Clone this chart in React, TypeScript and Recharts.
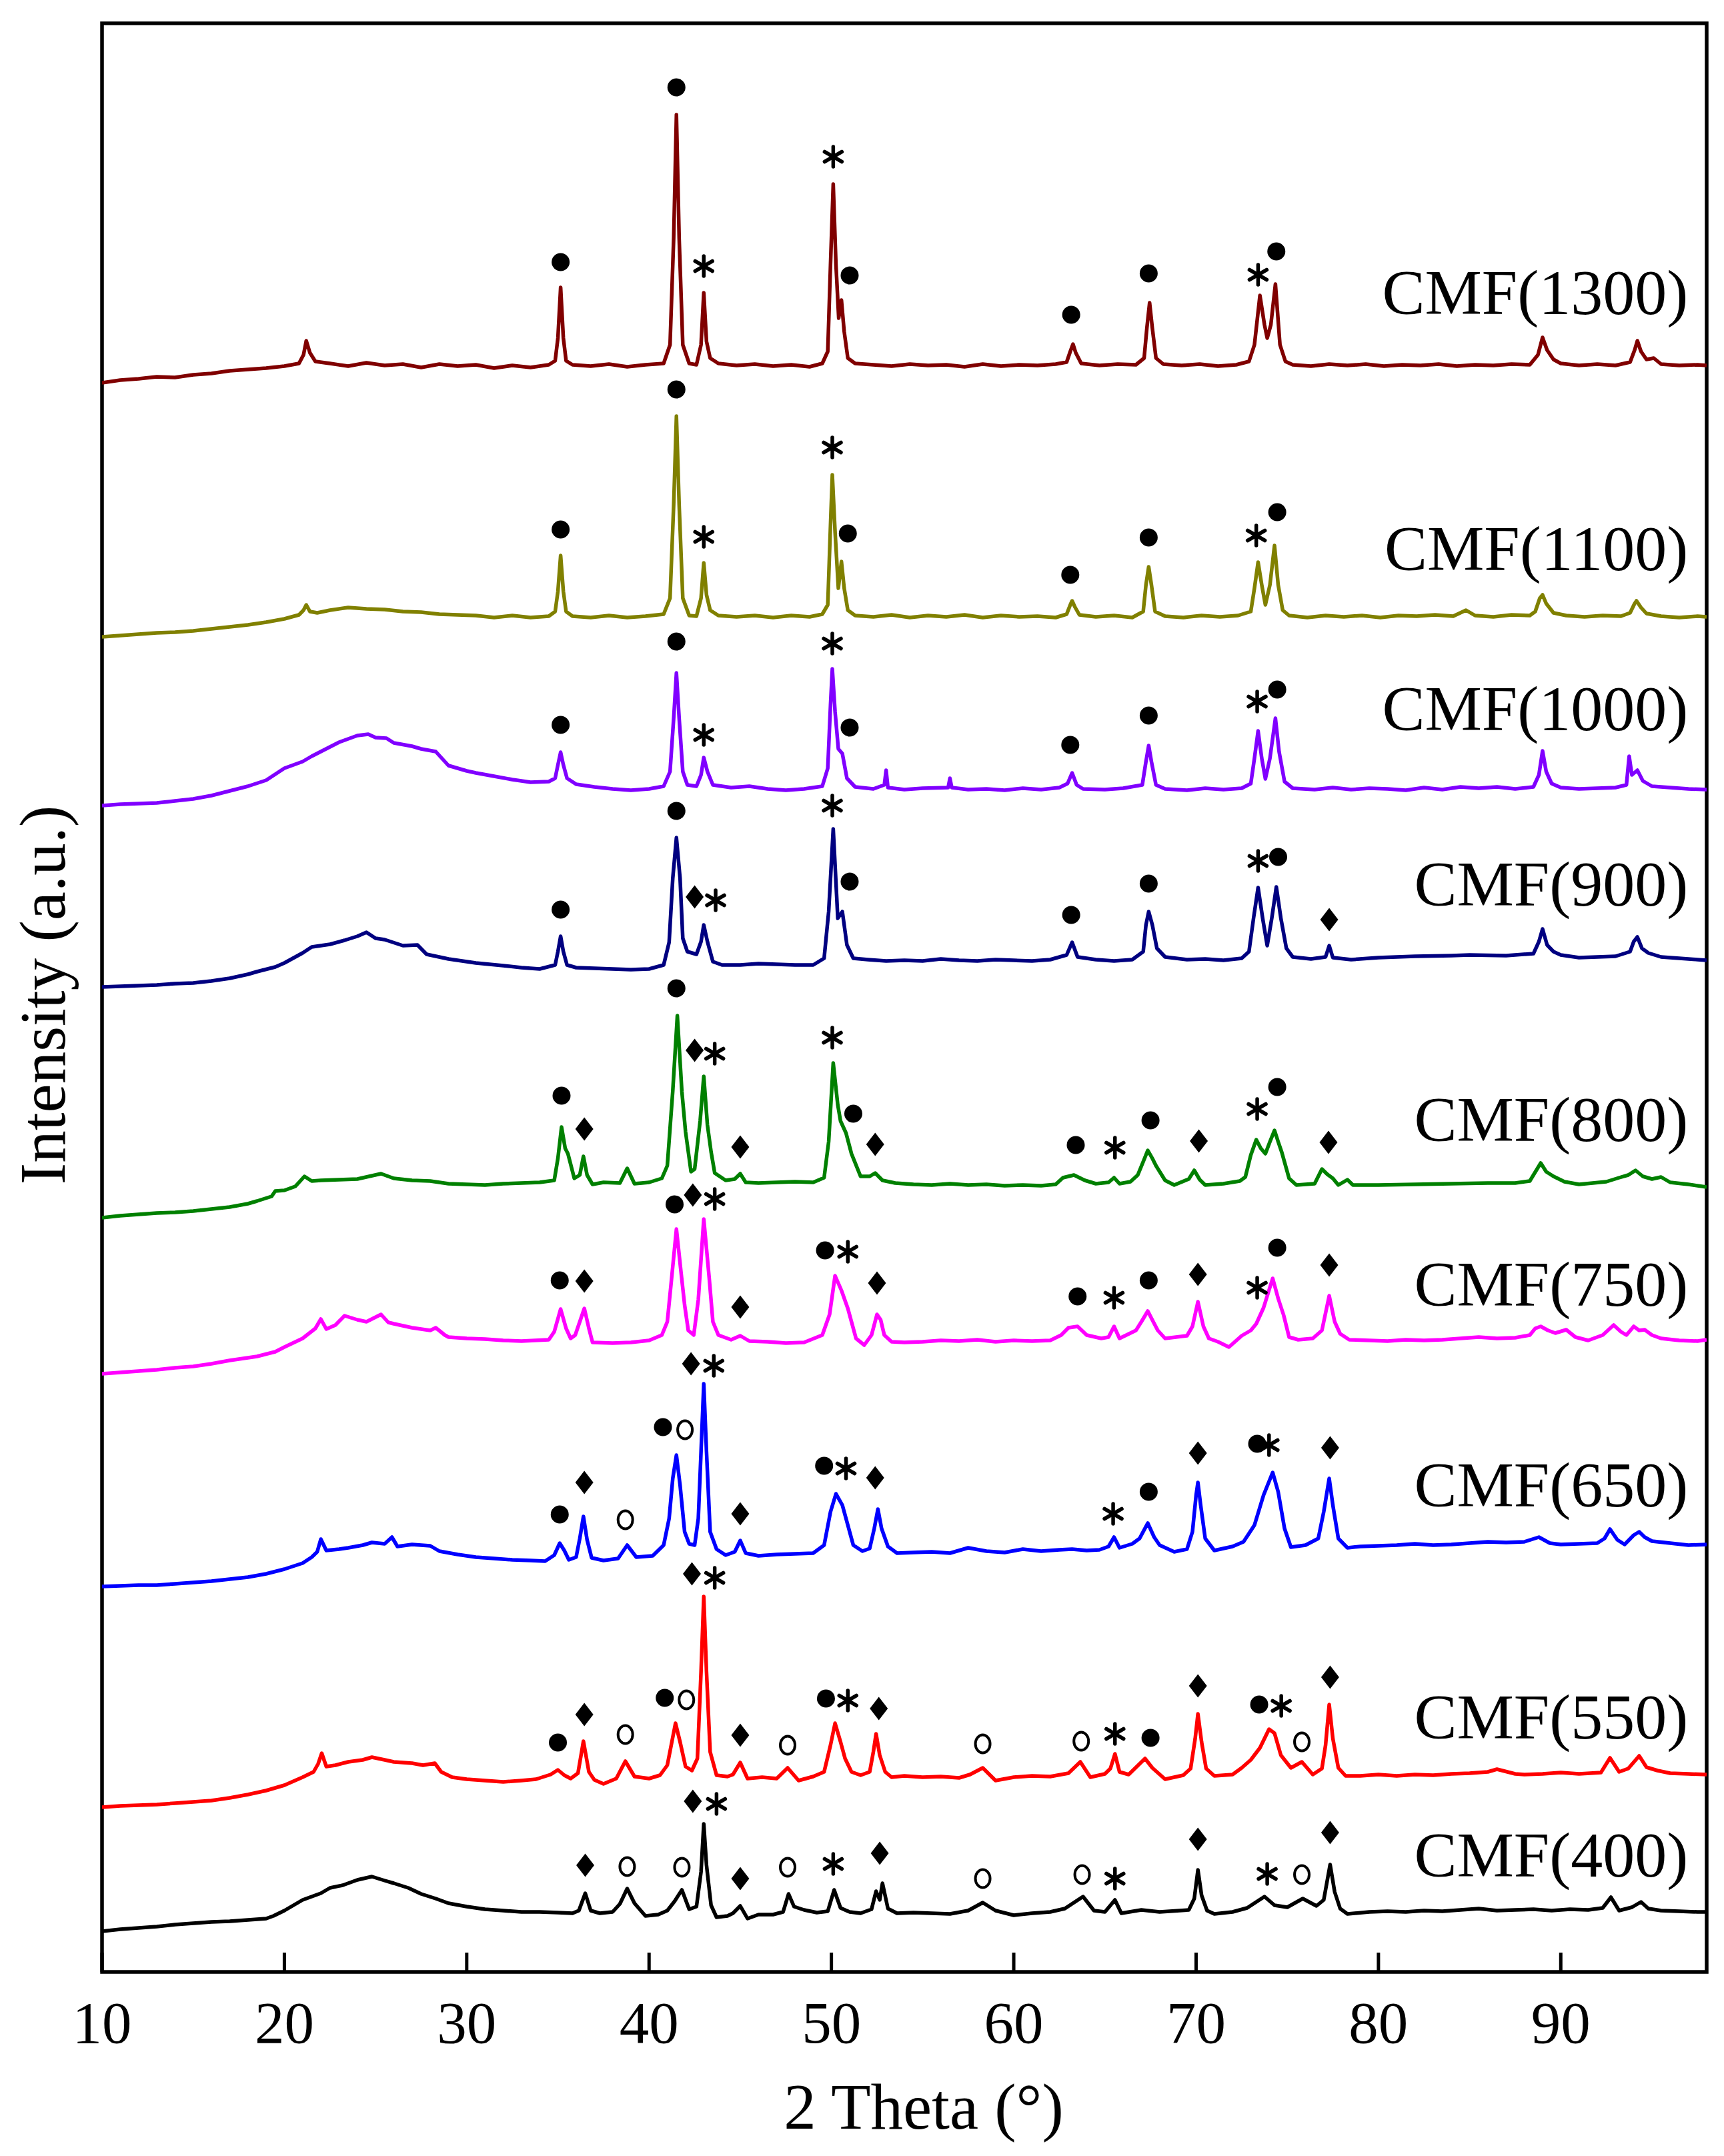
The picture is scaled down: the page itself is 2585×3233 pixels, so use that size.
import React from "react";
import {
  ComposedChart,
  Line,
  Scatter,
  XAxis,
  YAxis,
  ReferenceArea,
  Label,
} from "recharts";

const FONT = '"Liberation Serif", "Times New Roman", serif';

// [2theta, stacked intensity], one array per sample
const cmf1300: [number, number][] = [
  [10, 2383], [11, 2387], [12, 2389], [13, 2392], [14, 2391], [15, 2395], [16, 2397], [17, 2401],
  [18, 2403], [19, 2405], [20, 2408], [20.8, 2412], [21.05, 2425], [21.2, 2446], [21.4, 2428],
  [21.7, 2415], [22.5, 2412], [23.5, 2408], [24.5, 2413], [25.5, 2409], [26.5, 2411], [27.5, 2406],
  [28.5, 2411], [29.5, 2408], [30.5, 2410], [31.5, 2405], [32.5, 2409], [33.5, 2406], [34.5, 2410],
  [34.85, 2416], [35.0, 2450], [35.15, 2526], [35.3, 2450], [35.45, 2416], [35.8, 2410],
  [36.8, 2408], [37.8, 2411], [38.8, 2407], [39.8, 2410], [40.8, 2412], [41.15, 2440],
  [41.35, 2600], [41.5, 2785], [41.65, 2600], [41.85, 2440], [42.2, 2412], [42.6, 2410],
  [42.85, 2440], [43.0, 2518], [43.15, 2445], [43.35, 2420], [43.8, 2412], [44.8, 2409],
  [45.8, 2411], [46.8, 2408], [47.8, 2410], [48.8, 2407], [49.5, 2412], [49.8, 2430],
  [49.95, 2560], [50.1, 2681], [50.25, 2560], [50.4, 2480], [50.55, 2507], [50.7, 2460],
  [50.9, 2420], [51.3, 2412], [52.3, 2410], [53.3, 2408], [54.3, 2411], [55.3, 2409], [56.3, 2410],
  [57.3, 2407], [58.3, 2411], [59.3, 2408], [60.3, 2410], [61.3, 2409], [62.3, 2411], [62.9, 2414],
  [63.1, 2430], [63.25, 2441], [63.4, 2428], [63.7, 2412], [64.7, 2409], [65.7, 2411], [66.7, 2410],
  [67.15, 2420], [67.3, 2465], [67.45, 2503], [67.6, 2465], [67.8, 2420], [68.2, 2411],
  [69.2, 2409], [70.2, 2411], [71.2, 2408], [72.2, 2410], [72.9, 2415], [73.2, 2440], [73.5, 2514],
  [73.75, 2470], [73.9, 2450], [74.1, 2470], [74.35, 2531], [74.6, 2440], [74.9, 2415],
  [75.3, 2410], [76.3, 2408], [77.3, 2411], [78.3, 2409], [79.3, 2411], [80.3, 2408], [81.3, 2410],
  [82.3, 2409], [83.3, 2411], [84.3, 2408], [85.3, 2410], [86.3, 2409], [87.3, 2411], [88.3, 2410],
  [88.75, 2425], [89.0, 2451], [89.25, 2432], [89.6, 2418], [90, 2412], [91, 2409], [92, 2411],
  [93, 2409], [93.8, 2414], [94.05, 2432], [94.2, 2446], [94.4, 2430], [94.7, 2418], [95.1, 2420],
  [95.5, 2411], [96.5, 2409], [97.5, 2410], [98, 2409],
];

const cmf1100: [number, number][] = [
  [10, 2002], [11, 2004], [12, 2006], [13, 2008], [14, 2009], [15, 2011], [16, 2014], [17, 2017],
  [18, 2020], [19, 2024], [20, 2029], [20.8, 2035], [21.05, 2042], [21.2, 2050], [21.4, 2040],
  [21.8, 2038], [22.5, 2042], [23.5, 2046], [24.5, 2044], [25.5, 2043], [26.5, 2040], [27.5, 2039],
  [28.5, 2036], [29.5, 2035], [30.5, 2034], [31.5, 2031], [32.5, 2034], [33.5, 2031], [34.5, 2033],
  [34.85, 2040], [35.0, 2070], [35.15, 2124], [35.3, 2070], [35.45, 2040], [35.8, 2033],
  [36.8, 2031], [37.8, 2034], [38.8, 2031], [39.8, 2033], [40.8, 2036], [41.15, 2060],
  [41.35, 2200], [41.5, 2333], [41.65, 2200], [41.85, 2060], [42.2, 2034], [42.6, 2033],
  [42.85, 2060], [43.0, 2113], [43.15, 2065], [43.35, 2042], [43.8, 2034], [44.8, 2032],
  [45.8, 2034], [46.8, 2031], [47.8, 2034], [48.8, 2032], [49.5, 2036], [49.8, 2050],
  [49.95, 2170], [50.05, 2245], [50.2, 2160], [50.38, 2075], [50.55, 2115], [50.7, 2075],
  [50.9, 2042], [51.3, 2034], [52.3, 2032], [53.3, 2035], [54.3, 2031], [55.3, 2034], [56.3, 2032],
  [57.3, 2035], [58.3, 2031], [59.3, 2034], [60.3, 2032], [61.3, 2033], [62.3, 2031], [62.9, 2036],
  [63.1, 2050], [63.2, 2056], [63.35, 2047], [63.6, 2035], [64.5, 2032], [65.5, 2034], [66.5, 2031],
  [67.1, 2040], [67.25, 2080], [67.4, 2107], [67.55, 2080], [67.75, 2040], [68.3, 2033],
  [69.3, 2031], [70.3, 2034], [71.3, 2032], [72.3, 2034], [73.0, 2040], [73.2, 2075], [73.4, 2114],
  [73.6, 2080], [73.8, 2050], [74.05, 2080], [74.3, 2139], [74.5, 2080], [74.75, 2042],
  [75.1, 2034], [76.1, 2031], [77.1, 2034], [78.1, 2032], [79.1, 2034], [80.1, 2031], [81.1, 2034],
  [82.1, 2033], [83.1, 2035], [84.1, 2033], [84.8, 2042], [85.3, 2034], [86.3, 2032], [87.3, 2035],
  [88.3, 2034], [88.6, 2040], [88.85, 2060], [89.0, 2065], [89.2, 2052], [89.6, 2038], [90.3, 2034],
  [91.3, 2032], [92.3, 2034], [93.3, 2033], [93.8, 2038], [94.05, 2052], [94.15, 2056],
  [94.4, 2046], [94.7, 2037], [95.5, 2033], [96.5, 2031], [97.5, 2033], [98, 2032],
];

const cmf1000: [number, number][] = [
  [10, 1749], [11, 1751], [12, 1752], [13, 1753], [14, 1756], [15, 1759], [16, 1764], [17, 1771],
  [18, 1778], [19, 1787], [20, 1805], [21, 1815], [21.5, 1823], [22, 1830], [23, 1844], [24, 1854],
  [24.6, 1856], [25, 1851], [25.6, 1850], [26, 1843], [27, 1838], [27.5, 1834], [28.3, 1830],
  [29, 1809], [30, 1801], [30.5, 1798], [31.5, 1793], [32.5, 1788], [33.5, 1784], [34.5, 1785],
  [34.85, 1790], [35.0, 1810], [35.15, 1829], [35.3, 1810], [35.5, 1790], [36, 1781], [37, 1777],
  [38, 1774], [39, 1772], [40, 1774], [40.8, 1778], [41.15, 1800], [41.35, 1880], [41.5, 1948],
  [41.65, 1880], [41.85, 1800], [42.1, 1780], [42.6, 1778], [42.85, 1795], [43.0, 1821],
  [43.2, 1800], [43.5, 1780], [44.5, 1776], [45.5, 1778], [46.5, 1774], [47.5, 1772], [48.5, 1774],
  [49.5, 1778], [49.8, 1805], [49.95, 1900], [50.05, 1954], [50.2, 1890], [50.38, 1834],
  [50.6, 1827], [50.85, 1790], [51.3, 1777], [52.3, 1774], [52.9, 1780], [53.0, 1802], [53.1, 1776],
  [54, 1773], [55, 1775], [56.4, 1776], [56.5, 1790], [56.6, 1776], [57.5, 1773], [58.5, 1774],
  [59.5, 1772], [60.5, 1775], [61.5, 1773], [62.5, 1776], [62.95, 1782], [63.2, 1798], [63.45, 1780],
  [63.8, 1774], [65, 1773], [66, 1775], [67.05, 1780], [67.25, 1815], [67.4, 1839], [67.55, 1815],
  [67.8, 1780], [68.3, 1774], [69.5, 1772], [70.5, 1775], [71.5, 1773], [72.5, 1775], [73.0, 1782],
  [73.2, 1820], [73.4, 1861], [73.6, 1820], [73.8, 1789], [74.05, 1820], [74.35, 1880],
  [74.55, 1830], [74.85, 1785], [75.3, 1775], [76.5, 1773], [77.5, 1776], [78.5, 1773], [79.5, 1775],
  [80.5, 1774], [81.5, 1772], [82.5, 1776], [83.5, 1773], [84.5, 1777], [85.5, 1775], [86.5, 1777],
  [87.5, 1774], [88.5, 1777], [88.8, 1795], [89.0, 1831], [89.2, 1800], [89.5, 1782], [90, 1776],
  [91, 1774], [92, 1775], [93, 1776], [93.6, 1780], [93.75, 1823], [93.9, 1795], [94.2, 1802],
  [94.5, 1786], [95, 1778], [96, 1776], [97, 1774], [98, 1773],
];

const cmf900: [number, number][] = [
  [10, 1477], [11, 1478], [12, 1479], [13, 1480], [14, 1482], [15, 1483], [16, 1486], [17, 1490],
  [18, 1496], [18.5, 1500], [19.5, 1507], [20, 1513], [21, 1528], [21.5, 1537], [22.5, 1541],
  [23.3, 1547], [24, 1553], [24.5, 1559], [25, 1550], [25.5, 1548], [26.5, 1539], [27.3, 1540],
  [27.8, 1526], [29, 1519], [30.5, 1513], [32, 1509], [33, 1506], [34, 1504], [34.85, 1510],
  [35.0, 1530], [35.15, 1553], [35.3, 1530], [35.5, 1510], [36, 1506], [37, 1505], [38, 1504],
  [39, 1503], [40, 1504], [40.8, 1510], [41.1, 1544], [41.3, 1640], [41.5, 1701], [41.7, 1640],
  [41.85, 1550], [42.1, 1530], [42.6, 1526], [42.85, 1545], [43.0, 1570], [43.2, 1545],
  [43.5, 1515], [44, 1510], [45, 1510], [46, 1512], [47, 1511], [48, 1510], [49, 1510], [49.6, 1520],
  [49.85, 1590], [50.1, 1714], [50.35, 1580], [50.6, 1590], [50.85, 1540], [51.2, 1520], [52, 1518],
  [53, 1516], [54, 1517], [55, 1516], [56, 1519], [57, 1517], [58, 1516], [59, 1518], [60, 1517],
  [61, 1516], [62, 1518], [62.9, 1525], [63.2, 1544], [63.5, 1522], [64.5, 1518], [65.5, 1516],
  [66.5, 1518], [67.1, 1530], [67.25, 1570], [67.4, 1590], [67.6, 1570], [67.85, 1535],
  [68.3, 1522], [69.5, 1518], [70.5, 1519], [71.5, 1517], [72.5, 1520], [72.9, 1530], [73.15, 1580],
  [73.4, 1626], [73.65, 1580], [73.9, 1539], [74.15, 1580], [74.4, 1627], [74.65, 1580],
  [74.95, 1535], [75.3, 1522], [76.3, 1519], [77.1, 1522], [77.3, 1539], [77.5, 1521], [78.5, 1518],
  [80, 1521], [82, 1523], [84, 1524], [85, 1525], [87, 1524], [88.5, 1527], [88.8, 1545],
  [89.0, 1564], [89.25, 1540], [89.6, 1530], [90, 1525], [91, 1521], [92, 1522], [93, 1523],
  [93.8, 1530], [94.0, 1545], [94.2, 1552], [94.45, 1535], [94.8, 1528], [95.5, 1522], [96.5, 1520],
  [97.5, 1518], [98, 1517],
];

const cmf800: [number, number][] = [
  [10, 1131], [11, 1134], [12, 1136], [13, 1138], [14, 1139], [15, 1141], [16, 1144], [17, 1147],
  [18, 1152], [18.5, 1156], [19.3, 1163], [19.5, 1171], [20, 1172], [20.6, 1178], [21.1, 1193],
  [21.5, 1186], [22, 1187], [23, 1188], [24, 1189], [25.3, 1197], [26, 1190], [27, 1187], [28, 1186],
  [29, 1182], [30, 1181], [31, 1180], [32, 1182], [33, 1183], [34, 1184], [34.8, 1187], [35.0, 1220],
  [35.2, 1267], [35.4, 1235], [35.55, 1227], [35.9, 1190], [36.2, 1195], [36.4, 1223], [36.6, 1195],
  [36.9, 1181], [37.5, 1184], [38.4, 1183], [38.8, 1205], [39.2, 1182], [40, 1184], [40.7, 1190],
  [41.0, 1209], [41.3, 1321], [41.55, 1434], [41.8, 1320], [42.0, 1260], [42.3, 1200], [42.5, 1204],
  [42.8, 1276], [43.0, 1343], [43.2, 1270], [43.4, 1230], [43.6, 1198], [44.2, 1187], [44.7, 1189],
  [45.0, 1197], [45.3, 1184], [46, 1183], [47, 1184], [48, 1185], [49, 1184], [49.6, 1191],
  [49.85, 1245], [50.1, 1363], [50.35, 1300], [50.5, 1276], [50.8, 1258], [51.1, 1227],
  [51.6, 1193], [52.1, 1193], [52.4, 1198], [52.8, 1187], [53.5, 1183], [54.5, 1181], [55.5, 1180],
  [56.5, 1182], [57.5, 1180], [58.5, 1181], [59.5, 1179], [60.5, 1180], [61.5, 1179], [62.3, 1181],
  [62.7, 1191], [63.3, 1195], [63.9, 1187], [64.5, 1182], [65.2, 1184], [65.5, 1191], [65.8, 1182],
  [66.4, 1185], [66.8, 1195], [67.1, 1215], [67.35, 1232], [67.6, 1220], [67.8, 1209], [68.3, 1187],
  [68.8, 1180], [69.6, 1189], [69.9, 1202], [70.2, 1188], [70.5, 1180], [71.5, 1182], [72.4, 1186],
  [72.7, 1192], [73.0, 1225], [73.3, 1248], [73.55, 1235], [73.8, 1227], [74.05, 1245],
  [74.3, 1262], [74.5, 1245], [74.7, 1229], [75.1, 1190], [75.5, 1180], [76.5, 1182], [76.9, 1204],
  [77.2, 1196], [77.5, 1190], [77.8, 1180], [78.3, 1188], [78.6, 1180], [80, 1180], [82, 1181],
  [84, 1182], [86, 1183], [87.5, 1183], [88.3, 1186], [88.9, 1213], [89.2, 1200], [89.6, 1193],
  [90.2, 1185], [91, 1181], [92.5, 1185], [93.2, 1191], [93.7, 1195], [94.1, 1202], [94.5, 1193],
  [95, 1189], [95.5, 1192], [96, 1184], [97, 1181], [98, 1177],
];

const cmf750: [number, number][] = [
  [10, 897], [11, 899], [12, 901], [13, 903], [14, 906], [15, 908], [16, 912], [17, 917], [18, 921],
  [18.5, 923], [19.5, 930], [20, 937], [21, 950], [21.7, 965], [22, 979], [22.3, 964], [22.8, 970],
  [23.3, 984], [24, 978], [24.5, 975], [25.3, 986], [25.7, 974], [26, 972], [27, 966], [28, 962],
  [28.3, 966], [28.8, 955], [29, 952], [30, 950], [31, 949], [32, 947], [33, 946], [34.5, 948],
  [34.8, 960], [35.15, 994], [35.45, 965], [35.7, 950], [35.95, 955], [36.2, 975], [36.45, 995],
  [36.7, 965], [36.9, 944], [38, 943], [39, 944], [40, 947], [40.7, 955], [41.0, 975], [41.2, 1030],
  [41.5, 1114], [41.75, 1050], [41.95, 1000], [42.15, 962], [42.45, 955], [42.7, 1008], [43.0, 1129],
  [43.3, 1040], [43.5, 975], [43.8, 955], [44.5, 948], [45, 954], [45.5, 946], [46.5, 945],
  [47.5, 943], [48.5, 944], [49.5, 955], [49.9, 986], [50.2, 1044], [50.55, 1022], [50.9, 995],
  [51.1, 975], [51.35, 950], [51.8, 940], [52.2, 955], [52.5, 986], [52.7, 978], [52.9, 955],
  [53.3, 945], [54, 944], [55, 945], [56, 947], [57, 946], [58, 948], [59, 945], [60, 947], [61, 946],
  [62, 947], [62.6, 955], [63.0, 966], [63.5, 968], [64, 955], [64.8, 950], [65.2, 952], [65.5, 968],
  [65.8, 950], [66.7, 962], [67.0, 975], [67.35, 991], [67.65, 975], [67.9, 962], [68.3, 950],
  [69.5, 954], [69.8, 968], [70.1, 1005], [70.4, 968], [70.7, 950], [71.2, 945], [71.8, 937],
  [72.5, 954], [73.0, 962], [73.3, 972], [73.7, 996], [74.2, 1040], [74.5, 1010], [74.8, 985],
  [75.1, 952], [75.6, 948], [76.4, 950], [76.9, 962], [77.3, 1014], [77.6, 975], [77.9, 957],
  [78.4, 948], [79.5, 947], [80.5, 946], [81.5, 948], [82.5, 947], [83.5, 948], [84.5, 950],
  [85.5, 952], [86.5, 950], [87.5, 951], [88.3, 955], [88.6, 965], [88.9, 968], [89.3, 962],
  [89.7, 958], [90.3, 963], [90.8, 952], [91.5, 947], [92.3, 955], [92.9, 970], [93.3, 960],
  [93.6, 955], [94.0, 968], [94.3, 962], [94.6, 963], [95, 955], [95.5, 950], [96.5, 947],
  [97.5, 946], [98, 948],
];

const cmf650: [number, number][] = [
  [10, 578], [11, 579], [12, 580], [13, 580], [14, 582], [15, 584], [16, 586], [17, 589], [18, 592],
  [19, 597], [20, 604], [21, 613], [21.5, 622], [21.8, 630], [22, 649], [22.3, 632], [23, 634],
  [23.5, 636], [24.3, 640], [24.8, 644], [25.5, 642], [25.9, 652], [26.2, 638], [27, 641], [28, 639],
  [28.5, 631], [29.5, 626], [30.5, 622], [31.5, 620], [32.5, 618], [33.5, 617], [34.3, 616],
  [34.8, 625], [35.1, 643], [35.35, 632], [35.6, 618], [36.0, 622], [36.2, 650], [36.4, 683],
  [36.6, 648], [36.85, 621], [37.5, 617], [38.3, 620], [38.8, 640], [39.3, 622], [40.2, 624],
  [40.8, 640], [41.1, 680], [41.3, 740], [41.5, 775], [41.7, 730], [41.95, 660], [42.2, 642],
  [42.5, 640], [42.7, 680], [42.85, 780], [43.0, 882], [43.15, 780], [43.35, 660], [43.7, 634],
  [44.2, 625], [44.7, 630], [45.0, 647], [45.3, 628], [46, 624], [47, 626], [48, 627], [49, 628],
  [49.6, 640], [49.95, 690], [50.25, 717], [50.6, 700], [50.8, 680], [51.2, 640], [51.7, 631],
  [52.1, 635], [52.35, 665], [52.55, 694], [52.75, 665], [53.1, 638], [53.6, 628], [54.5, 629],
  [55.5, 630], [56.5, 628], [57.5, 636], [58.5, 631], [59.5, 629], [60.5, 634], [61.5, 631],
  [62.5, 633], [63.2, 634], [64, 632], [64.7, 633], [65.2, 638], [65.5, 652], [65.8, 636],
  [66.5, 642], [66.9, 650], [67.35, 673], [67.7, 652], [68.0, 640], [68.8, 630], [69.5, 634],
  [69.8, 660], [70.0, 715], [70.1, 734], [70.25, 700], [70.5, 650], [71, 632], [72, 638],
  [72.6, 645], [73.2, 670], [73.7, 715], [74.2, 749], [74.5, 720], [74.85, 665], [75.2, 637],
  [76.0, 640], [76.7, 650], [77.0, 690], [77.3, 740], [77.5, 700], [77.8, 650], [78.3, 636],
  [79, 638], [80, 639], [81, 640], [82, 642], [83, 640], [84, 641], [85, 643], [86, 645], [87, 644],
  [88, 645], [88.8, 652], [89.4, 643], [90, 641], [91, 642], [92, 643], [92.4, 650], [92.7, 664],
  [93.1, 648], [93.5, 641], [94.0, 655], [94.3, 660], [94.6, 652], [95, 646], [96, 643], [97, 640],
  [98, 641],
];

const cmf550: [number, number][] = [
  [10, 247], [11, 249], [12, 250], [13, 251], [14, 253], [15, 255], [16, 257], [17, 261], [18, 266],
  [19, 272], [20, 280], [21, 292], [21.6, 300], [21.85, 312], [22.05, 328], [22.3, 308], [22.8, 310],
  [23.5, 315], [24.3, 318], [24.8, 322], [25.5, 318], [26, 315], [27, 313], [27.6, 310],
  [28.25, 313], [28.6, 300], [29.2, 292], [30, 289], [31, 287], [32, 285], [33, 287], [33.8, 289],
  [34.6, 296], [35.0, 303], [35.35, 295], [35.7, 290], [36.1, 298], [36.4, 346], [36.7, 300],
  [37.0, 288], [37.5, 282], [38.2, 290], [38.7, 316], [39.2, 293], [40, 290], [40.6, 295],
  [41.0, 310], [41.25, 345], [41.45, 373], [41.7, 345], [42.0, 308], [42.35, 302], [42.65, 320],
  [42.85, 450], [43.0, 563], [43.15, 450], [43.35, 330], [43.7, 295], [44.3, 293], [44.6, 296],
  [45.0, 314], [45.4, 290], [46.2, 292], [47.0, 290], [47.6, 306], [48.2, 287], [49.0, 293],
  [49.6, 300], [49.95, 340], [50.2, 373], [50.5, 345], [50.75, 320], [51.1, 300], [51.6, 295],
  [52.1, 300], [52.3, 330], [52.45, 357], [52.65, 325], [52.95, 300], [53.3, 292], [54, 294],
  [55, 292], [56, 293], [57, 291], [57.6, 296], [58.3, 306], [59.0, 287], [60, 292], [61, 294],
  [62, 293], [63, 298], [63.65, 315], [64.2, 292], [65.0, 297], [65.3, 305], [65.55, 327],
  [65.8, 300], [66.3, 296], [67.2, 320], [67.6, 306], [68.3, 289], [69.3, 295], [69.7, 305],
  [69.95, 350], [70.1, 387], [70.3, 345], [70.55, 305], [71, 294], [72.0, 296], [72.5, 306],
  [73.0, 318], [73.5, 336], [74.0, 364], [74.3, 358], [74.65, 325], [75.2, 306], [75.8, 315],
  [76.4, 296], [76.9, 305], [77.1, 340], [77.3, 401], [77.5, 350], [77.8, 306], [78.2, 294],
  [79, 294], [80, 296], [81, 294], [82, 296], [83, 295], [84, 297], [85, 298], [86, 300],
  [86.5, 304], [87.5, 297], [88, 296], [89, 297], [90, 299], [91, 297], [92.2, 299], [92.7, 321],
  [93.2, 300], [93.7, 305], [94.3, 324], [94.7, 307], [95.3, 302], [96, 298], [97, 297], [98, 296],
];

const cmf400: [number, number][] = [
  [10, 61], [11, 64], [12, 66], [13, 68], [14, 71], [15, 73], [16, 75], [17, 76], [18, 78], [19, 80],
  [19.4, 84], [20, 92], [21, 108], [22, 118], [22.5, 126], [23.2, 130], [24, 138], [24.8, 143],
  [25.5, 137], [26, 133], [26.8, 126], [27.5, 117], [28.3, 110], [29, 103], [30, 98], [31, 94],
  [32, 92], [33, 90], [34, 90], [35, 89], [35.8, 88], [36.15, 92], [36.5, 118], [36.8, 92],
  [37.3, 88], [38.0, 90], [38.4, 102], [38.8, 125], [39.2, 103], [39.8, 84], [40.5, 86], [41.0, 92],
  [41.4, 106], [41.8, 123], [42.2, 94], [42.6, 98], [42.85, 150], [43.0, 222], [43.15, 160],
  [43.4, 100], [43.7, 82], [44.3, 84], [44.6, 88], [45.0, 99], [45.4, 80], [46.0, 86], [46.8, 86],
  [47.35, 90], [47.65, 117], [47.95, 98], [48.5, 93], [49.2, 89], [49.8, 91], [50.15, 123],
  [50.5, 96], [51.0, 90], [51.6, 88], [52.2, 94], [52.45, 121], [52.65, 108], [52.8, 133],
  [53.1, 95], [53.6, 88], [54.5, 89], [55.5, 88], [56.5, 87], [57.5, 92], [58.3, 104], [59.0, 92],
  [60.0, 85], [61, 88], [62, 90], [62.8, 95], [63.8, 113], [64.4, 92], [65.0, 90], [65.55, 108],
  [65.9, 88], [67.0, 93], [68, 90], [69.6, 93], [69.9, 110], [70.1, 153], [70.3, 115], [70.6, 92],
  [71.0, 87], [72.0, 90], [72.8, 96], [73.75, 113], [74.3, 100], [75.0, 97], [75.85, 110],
  [76.6, 99], [77.0, 108], [77.35, 161], [77.6, 120], [77.9, 95], [78.3, 87], [79.5, 90],
  [80.5, 91], [81.5, 90], [82.5, 92], [83.5, 91], [84.5, 93], [85.5, 95], [86.5, 92], [87.5, 93],
  [88.5, 94], [89.5, 92], [90.5, 94], [91.5, 93], [92.3, 96], [92.75, 112], [93.2, 92], [93.9, 97],
  [94.4, 105], [94.8, 95], [95.5, 92], [96.5, 91], [97.5, 90], [98, 90],
];

// phase markers: ● / * / ♦ / ○  [2theta, level]
const dotMarks: [number, number][] = [
  [35.15, 2564], [41.5, 2826], [51.0, 2544], [63.15, 2485], [67.4, 2547], [74.4, 2580],
  [35.15, 2163], [41.5, 2373], [50.9, 2157], [63.1, 2095], [67.4, 2151], [74.45, 2189],
  [35.15, 1870], [41.5, 1995], [51.0, 1866], [63.1, 1840], [67.4, 1884], [74.45, 1923],
  [35.15, 1593], [41.5, 1741], [51.0, 1635], [63.15, 1585], [67.4, 1632], [74.5, 1672],
  [35.2, 1314], [41.5, 1475], [51.2, 1287], [63.4, 1240], [67.5, 1277], [74.45, 1327],
  [35.1, 1037], [41.4, 1151], [49.65, 1082], [63.5, 1013], [67.4, 1037], [74.45, 1086],
  [35.1, 686], [40.76, 817], [49.6, 759], [67.4, 720], [73.35, 792],
  [35.0, 344], [40.86, 411], [49.7, 410], [67.5, 351], [73.46, 401],
];

const starMarks: [number, number][] = [
  [43.0, 2558], [50.1, 2722], [73.4, 2545],
  [43.0, 2152], [50.05, 2286], [73.3, 2154],
  [43.0, 1855], [50.05, 1992], [73.35, 1905],
  [43.65, 1607], [50.05, 1749], [73.4, 1666],
  [43.6, 1377], [50.05, 1401], [65.55, 1236], [73.35, 1294],
  [43.6, 1159], [50.9, 1080], [65.5, 1011], [73.35, 1026],
  [43.55, 909], [50.8, 755], [65.45, 687], [74.0, 790],
  [43.6, 591], [50.9, 407], [65.55, 357], [74.67, 399],
  [43.7, 252], [50.1, 162], [65.55, 140], [73.9, 147],
];

const diamondMarks: [number, number][] = [
  [42.5, 1612], [77.3, 1578],
  [36.45, 1264], [42.5, 1382], [45.0, 1237], [52.4, 1241], [70.15, 1246], [77.26, 1244],
  [36.45, 1036], [42.4, 1165], [45.0, 997], [52.5, 1033], [70.1, 1046], [77.3, 1060],
  [36.45, 734], [42.3, 912], [45.0, 687], [52.4, 741], [70.1, 778], [77.35, 786],
  [36.45, 386], [42.35, 597], [45.0, 355], [52.6, 395], [70.1, 429], [77.35, 442],
  [36.5, 160], [42.4, 256], [45.0, 140], [52.65, 178], [70.1, 199], [77.35, 209],
];

const ringMarks: [number, number][] = [
  [38.7, 678], [41.97, 813],
  [38.7, 356], [42.05, 408], [47.6, 340], [58.3, 342], [63.7, 346], [75.8, 345],
  [38.8, 158], [41.8, 157], [47.6, 157], [58.3, 140], [63.75, 146], [75.8, 146],
];

const sampleNames = [
  "CMF(1300)", "CMF(1100)", "CMF(1000)", "CMF(900)", "CMF(800)",
  "CMF(750)", "CMF(650)", "CMF(550)", "CMF(400)",
];
const sampleColors = [
  "#800000", "#808000", "#8000ff", "#000080", "#008000",
  "#ff00ff", "#0000ff", "#ff0000", "#000000",
];
const sampleCurves = [
  cmf1300, cmf1100, cmf1000, cmf900, cmf800, cmf750, cmf650, cmf550, cmf400,
];
const nameLevels = [2518, 2134, 1894, 1631, 1278, 1031, 730, 382, 175];
const nameAt = 96.98;

const xTicks = [10, 20, 30, 40, 50, 60, 70, 80, 90];

const toPts = (arr: [number, number][]) => arr.map(([x, y]) => ({ x, y }));

const DotShape = ({ cx, cy }: any) => <circle cx={cx} cy={cy} r={13.5} fill="#000" />;

const StarShape = ({ cx, cy }: any) => (
  <g stroke="#000" strokeWidth={5.5} strokeLinecap="round">
    <line x1={cx} y1={cy - 15} x2={cx} y2={cy + 15} />
    <line x1={cx - 13} y1={cy - 7.5} x2={cx + 13} y2={cy + 7.5} />
    <line x1={cx - 13} y1={cy + 7.5} x2={cx + 13} y2={cy - 7.5} />
  </g>
);

const DiamondShape = ({ cx, cy }: any) => (
  <path
    d={`M${cx},${cy - 17.5}L${cx + 13.5},${cy}L${cx},${cy + 17.5}L${cx - 13.5},${cy}Z`}
    fill="#000"
  />
);

const RingShape = ({ cx, cy }: any) => (
  <ellipse cx={cx} cy={cy} rx={11} ry={13.5} fill="#fff" stroke="#000" strokeWidth={4} />
);

const NameShape = ({ cx, cy, payload }: any) => (
  <text x={cx} y={cy + 32} textAnchor="end" fontFamily={FONT} fontSize={96} fill="#000">
    {payload.name}
  </text>
);

// inward tick mark + label below the axis
const BottomTick = ({ x, y, payload }: any) => (
  <g>
    <line x1={x} y1={y} x2={x} y2={y - 29} stroke="#000" strokeWidth={5} />
    <text x={x} y={y + 106} textAnchor="middle" fontFamily={FONT} fontSize={89} fill="#000">
      {payload.value}
    </text>
  </g>
);

const XTitle = ({ viewBox }: any) => (
  <text
    x={viewBox.x + viewBox.width / 2 + 29}
    y={viewBox.y + 235}
    textAnchor="middle"
    fontFamily={FONT}
    fontSize={97}
    fill="#000"
  >
    2 Theta (°)
  </text>
);

const YTitle = ({ viewBox }: any) => {
  const x = viewBox.x + 97;
  const y = viewBox.y + viewBox.height / 2 - 4;
  return (
    <text
      x={x}
      y={y}
      transform={`rotate(-90, ${x}, ${y})`}
      textAnchor="middle"
      fontFamily={FONT}
      fontSize={97}
      fill="#000"
    >
      Intensity (a.u.)
    </text>
  );
};

export default function App() {
  const names = sampleNames.map((name, i) => ({ x: nameAt, y: nameLevels[i], name }));

  return (
    <div style={{ width: 2585, height: 3233, background: "#fff" }}>
      <style>{"body{margin:0;background:#fff}"}</style>
      <ComposedChart
        width={2585}
        height={3233}
        margin={{ top: 35, right: 26, bottom: 0, left: 0 }}
      >
        <XAxis
          type="number"
          dataKey="x"
          domain={[10, 98]}
          ticks={xTicks}
          allowDataOverflow
          height={276}
          axisLine={false}
          tickLine={false}
          tickSize={0}
          tickMargin={0}
          tick={<BottomTick />}
          interval={0}
        >
          <Label content={<XTitle />} />
        </XAxis>
        <YAxis
          type="number"
          dataKey="y"
          domain={[0, 2922]}
          allowDataOverflow
          width={153}
          axisLine={false}
          tickLine={false}
          tick={false}
        >
          <Label content={<YTitle />} />
        </YAxis>

        {sampleCurves.map((curve, i) => (
          <Line
            key={sampleNames[i]}
            data={toPts(curve)}
            dataKey="y"
            type="linear"
            stroke={sampleColors[i]}
            strokeWidth={5.5}
            strokeLinejoin="round"
            dot={false}
            activeDot={false}
            isAnimationActive={false}
          />
        ))}

        <Scatter data={toPts(dotMarks)} dataKey="y" shape={<DotShape />} isAnimationActive={false} />
        <Scatter data={toPts(starMarks)} dataKey="y" shape={<StarShape />} isAnimationActive={false} />
        <Scatter data={toPts(diamondMarks)} dataKey="y" shape={<DiamondShape />} isAnimationActive={false} />
        <Scatter data={toPts(ringMarks)} dataKey="y" shape={<RingShape />} isAnimationActive={false} />
        <Scatter data={names} dataKey="y" shape={<NameShape />} isAnimationActive={false} />

        <ReferenceArea
          x1={10}
          x2={98}
          y1={0}
          y2={2922}
          fill="none"
          fillOpacity={0}
          stroke="#000"
          strokeWidth={5.5}
        />
      </ComposedChart>
    </div>
  );
}
